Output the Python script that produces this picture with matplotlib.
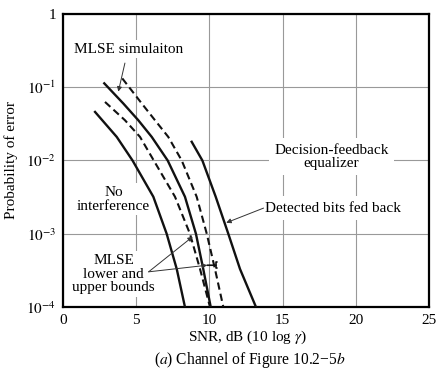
import numpy as np
import matplotlib
matplotlib.use("Agg")
import matplotlib.pyplot as plt

plt.rcParams.update({"font.family": "Liberation Serif", "mathtext.fontset": "stix", "font.size": 11})

# curves (SNR dB, probability of error)
no_int_x = [2.19, 3.67, 4.75, 6.17, 7.08, 7.77, 8.33]
no_int_p = [4.6e-2, 2.1e-2, 1.0e-2, 3.2e-3, 1.0e-3, 3.3e-4, 1.0e-4]
lower_x = [2.87, 4.23, 5.26, 6.2, 7.65, 8.67, 9.36, 10.04]
lower_p = [6.3e-2, 3.55e-2, 2.1e-2, 1.0e-2, 3.2e-3, 1.0e-3, 3.3e-4, 1.0e-4]
sim_x = [2.82, 4.12, 5.14, 6.06, 7.15, 8.33, 9.08, 9.58, 10.09]
sim_p = [1.13e-1, 6.0e-2, 3.55e-2, 2.1e-2, 1.0e-2, 3.2e-3, 1.0e-3, 3.3e-4, 1.0e-4]
upper_x = [4.05, 5.38, 6.28, 7.19, 8.11, 9.13, 9.82, 10.38, 10.95]
upper_p = [1.32e-1, 6.0e-2, 3.55e-2, 2.1e-2, 1.0e-2, 3.2e-3, 1.0e-3, 3.3e-4, 1.0e-4]
dfe_x = [8.79, 9.52, 10.43, 11.29, 12.09, 13.18]
dfe_p = [1.8e-2, 1.0e-2, 3.2e-3, 1.0e-3, 3.3e-4, 1.0e-4]

xticks = [0, 5, 10, 15, 20, 25]
yticks = [1e-4, 1e-3, 1e-2, 1e-1, 1]
ylabels = [r"$10^{-4}$", r"$10^{-3}$", r"$10^{-2}$", r"$10^{-1}$", "1"]

fig = plt.figure(figsize=(4.38, 3.73), dpi=100)
ax = fig.add_axes([0.1438, 0.177, 0.8357, 0.7855])
ax.set_yscale("log")
ax.set_xlim(0, 25); ax.set_ylim(1e-4, 1)
ax.set_xticks(xticks); ax.set_yticks(yticks); ax.set_yticklabels(ylabels)
ax.minorticks_off()
ax.tick_params(length=0, labelsize=11, pad=5)
ax.set_axisbelow(True)
ax.grid(True, color="#999999", lw=0.8)
for s in ax.spines.values():
    s.set_linewidth(1.6)

ink = "#111111"
ax.plot(no_int_x, no_int_p, color=ink, lw=1.7, zorder=3)
ax.plot(lower_x, lower_p, color=ink, lw=1.5, ls=(0, (3.5, 2)), zorder=3)
ax.plot(sim_x, sim_p, color=ink, lw=1.7, zorder=3)
ax.plot(upper_x, upper_p, color=ink, lw=1.5, ls=(0, (3.5, 2)), zorder=3)
ax.plot(dfe_x, dfe_p, color=ink, lw=1.7, zorder=3)

wb = dict(facecolor="white", edgecolor="none", pad=2)
arr = dict(arrowstyle="-|>", color="#333333", lw=0.7, mutation_scale=7, shrinkA=0, shrinkB=0)

ax.text(4.47, 10**-0.48, "MLSE simulaiton", ha="center", va="center", bbox=wb, zorder=1)
ax.annotate("", xy=(3.78, 10**-1.06), xytext=(4.23, 10**-0.67), arrowprops=arr, zorder=4)

ax.text(18.33, 10**-1.95, "Decision-feedback\nequalizer", ha="center", va="center",
        linespacing=1.0, bbox=dict(facecolor="white", edgecolor="none", pad=4), zorder=1)

ax.text(13.8, 10**-2.65, "Detected bits fed back", ha="left", va="center",
        bbox=dict(facecolor="white", edgecolor="none", pad=4), zorder=1)
ax.annotate("", xy=(11.15, 10**-2.85), xytext=(13.7, 10**-2.65), arrowprops=arr, zorder=4)

ax.text(3.45, 10**-2.53, "No\ninterference", ha="center", va="center", linespacing=1.05,
        bbox=wb, zorder=1)
ax.text(3.45, 10**-3.55, "MLSE\nlower and\nupper bounds", ha="center", va="center",
        linespacing=1.05, bbox=wb, zorder=1)
ax.annotate("", xy=(8.86, 10**-3.04), xytext=(5.85, 10**-3.52), arrowprops=arr, zorder=4)
ax.annotate("", xy=(9.85, 10**-3.43), xytext=(5.85, 10**-3.52), arrowprops=arr, zorder=4)
ax.annotate("", xy=(10.45, 10**-3.43), xytext=(9.85, 10**-3.43), zorder=4,
            arrowprops=dict(arrowstyle="-[", color=ink, lw=1.2, mutation_scale=2, shrinkA=0, shrinkB=0))

ax.set_ylabel("Probability of error", fontsize=11, labelpad=6)
fig.text(0.566, 0.0965, r"SNR, dB (10 log $\gamma$)", ha="center", va="center", fontsize=11)
fig.text(0.571, 0.035, r"($\mathit{a}$) Channel of Figure 10.2−5$\mathit{b}$", ha="center", va="center", fontsize=11.2)

fig.savefig("out.png", dpi=100)
